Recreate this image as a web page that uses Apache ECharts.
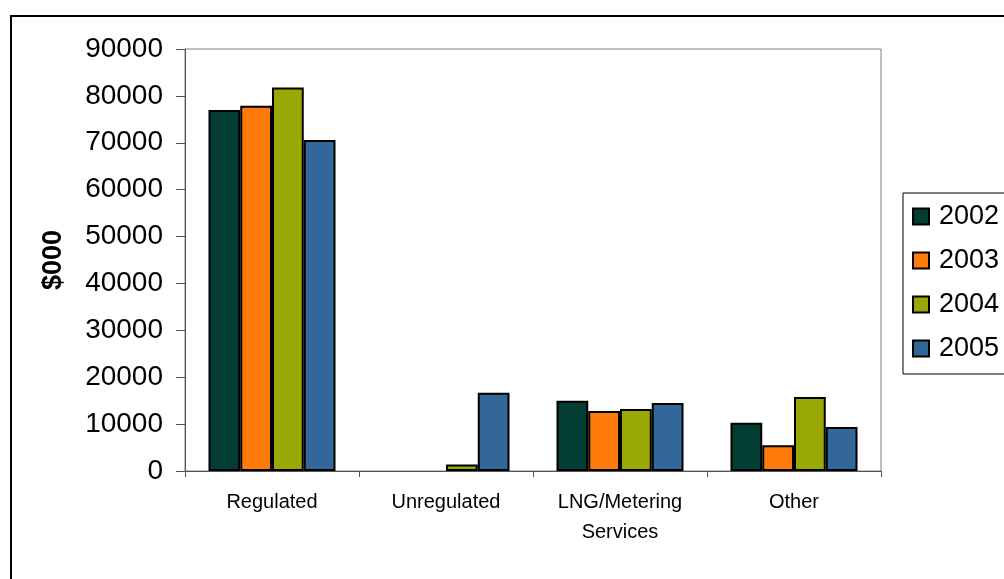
<!DOCTYPE html>
<html>
<head>
<meta charset="utf-8">
<script src="https://cdn.jsdelivr.net/npm/echarts@6/dist/echarts.min.js"></script>
<style>
  html, body { margin: 0; padding: 0; background: #fff; }
  #chart { width: 1004px; height: 579px; }
</style>
</head>
<body>
<div id="chart"></div>
<script>
const categories = ['Regulated', 'Unregulated', 'LNG/Metering\nServices', 'Other'];
const years = ['2002', '2003', '2004', '2005'];
// no bars drawn for 2002/2003 in Unregulated
const values2002 = [77000, null, 15000, 10300];
const values2003 = [77900, null, 12800, 5500];
const values2004 = [81800, 1400, 13200, 15800];
const values2005 = [70600, 16700, 14500, 9400];
const yTicks = { min: 0, max: 90000, interval: 10000 };

const colors = ['#013d32', '#ff7b0c', '#99a804', '#336699'];
const seriesData = [values2002, values2003, values2004, values2005];

const chart = echarts.init(document.getElementById('chart'));
const font = 'Liberation Sans, Arial, sans-serif';

const option = {
  animation: false,
  backgroundColor: '#fff',
  textStyle: { fontFamily: font },
  graphic: [{
    type: 'rect',
    shape: { x: 11, y: 16, width: 1200, height: 800 },
    style: { fill: 'none', stroke: '#000', lineWidth: 2 },
    z: 100
  }],
  grid: {
    left: 185, top: 49, right: 123, bottom: 108,
    show: true, borderColor: '#808080', borderWidth: 1
  },
  legend: {
    orient: 'vertical',
    left: 903,
    top: 193,
    padding: [10, 60, 12, 9],
    borderColor: '#000',
    borderWidth: 1,
    itemWidth: 16,
    itemHeight: 16,
    itemGap: 17,
    icon: 'rect',
    textStyle: { fontSize: 27, color: '#000', fontFamily: font, padding: [0, 0, 0, 5] },
    data: years
  },
  xAxis: {
    type: 'category',
    data: categories,
    axisLine: { lineStyle: { color: '#555', width: 1 } },
    axisTick: { show: true, length: 6, lineStyle: { color: '#555' } },
    axisLabel: { fontSize: 20, lineHeight: 30, margin: 16, color: '#000' }
  },
  yAxis: {
    type: 'value',
    min: yTicks.min,
    max: yTicks.max,
    interval: yTicks.interval,
    name: '$000',
    nameLocation: 'middle',
    nameGap: 118,
    nameTextStyle: { fontSize: 27, fontWeight: 'bold', color: '#000' },
    axisLine: { show: true, lineStyle: { color: '#555', width: 1 } },
    axisTick: { show: true, length: 9, lineStyle: { color: '#555' } },
    splitLine: { show: false },
    axisLabel: { fontSize: 28, margin: 22, color: '#000', formatter: v => String(v) }
  },
  series: years.map((y, i) => ({
    name: y,
    type: 'bar',
    data: seriesData[i],
    barGap: '0%',
    barCategoryGap: '27%',
    itemStyle: { color: colors[i], borderColor: '#000', borderWidth: 2 }
  }))
};

chart.setOption(option);
</script>
</body>
</html>
